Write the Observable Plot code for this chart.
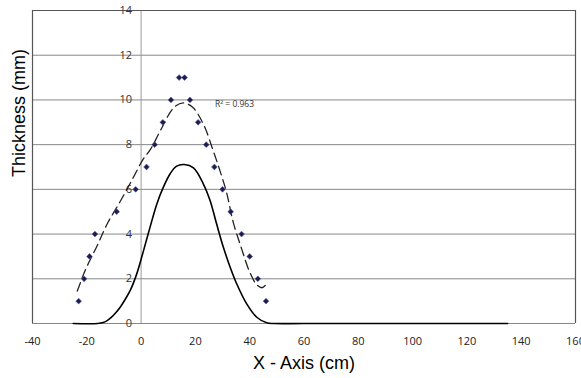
<!DOCTYPE html>
<html>
<head>
<meta charset="utf-8">
<script src="https://cdn.jsdelivr.net/npm/d3@7"></script>
<script src="https://cdn.jsdelivr.net/npm/@observablehq/plot@0.6"></script>
<style>
  html, body { margin: 0; padding: 0; background: #fff; }
</style>
</head>
<body>
<div id="chart"></div>
<script>
// Measured data points (X in cm, thickness in mm)
const pointX = [-23, -21, -19, -17, -9, -2, 2, 5, 8, 11, 14, 16, 18, 21, 24, 27, 30, 33, 37, 40, 43, 46];
const pointY = [1, 2, 3, 4, 5, 6, 7, 8, 9, 10, 11, 11, 10, 9, 8, 7, 6, 5, 4, 3, 2, 1];

// Dashed trend line
const trendX = [-23.5, -20.5, -16.5, -12.5, -7.5, -3, 0.5, 3.5, 7, 12, 15.5, 19, 23, 26.5, 29, 31.5, 34, 37, 40, 42.5, 44.5, 45.7];
const trendY = [1.45, 2.4, 3.4, 4.45, 5.5, 6.5, 7.3, 7.8, 8.6, 9.65, 9.87, 9.67, 8.9, 7.75, 6.85, 5.85, 4.5, 3.35, 2.3, 1.75, 1.6, 1.7];

// Solid curve
const curveX = [-25, -16, -14, -12.5, -11, -9.5, -7.7, -6, -4, -1.6, 0.9, 3.3, 5.8, 8.2, 10.7, 13.1, 15.9, 19.3, 22.9, 25.4, 27.8, 30.3, 32.8, 35.2, 38.9, 42.6, 46.3, 49, 60, 135];
const curveY = [0, 0, 0.04, 0.13, 0.27, 0.46, 0.73, 1.05, 1.48, 2.22, 3.26, 4.31, 5.35, 6.1, 6.7, 7.04, 7.11, 6.96, 6.25, 5.5, 4.46, 3.41, 2.52, 1.78, 0.88, 0.28, 0.03, 0, 0, 0];

const xTicks = [-40, -20, 0, 20, 40, 60, 80, 100, 120, 140, 160];
const yTicks = [0, 2, 4, 6, 8, 10, 12, 14];
const gridY = [0, 2, 4, 6, 8, 10, 12];
const r2Label = "R² = 0.963";
const xTitle = "X - Axis (cm)";
const yTitle = "Thickness (mm)";

const points = pointX.map((x, i) => ({x, y: pointY[i]}));
const trend = trendX.map((x, i) => ({x, y: trendY[i]}));
const curve = curveX.map((x, i) => ({x, y: curveY[i]}));

const tickFont = "'Open Sans', sans-serif";

const chart = Plot.plot({
  width: 581,
  height: 378,
  marginLeft: 32,
  marginRight: 6,
  marginTop: 10,
  marginBottom: 55,
  style: {background: "#fff", fontFamily: "'Liberation Sans', Arial, sans-serif"},
  x: {domain: [-40, 160], axis: null},
  y: {domain: [0, 14], axis: null},
  marks: [
    Plot.ruleY(gridY, {stroke: "#878787", strokeWidth: 1}),
    Plot.ruleX([0], {stroke: "#9a9a9a", strokeWidth: 1}),
    Plot.ruleY([14], {stroke: "#555", strokeWidth: 1.2}),
    Plot.ruleX([-40, 160], {stroke: "#555", strokeWidth: 1.2}),
    Plot.text(yTicks, {x: 0, y: d => d, text: d => String(d), textAnchor: "end", dx: -9, fontSize: 11, fontFamily: tickFont, fill: "#333"}),
    Plot.text(xTicks, {x: d => d, y: 0, text: d => String(d), dy: 18, fontSize: 11, fontFamily: tickFont, fill: "#222"}),
    Plot.line(curve, {x: "x", y: "y", stroke: "#000", strokeWidth: 1.6, curve: "catmull-rom"}),
    Plot.line(trend, {x: "x", y: "y", stroke: "#222", strokeWidth: 1.3, strokeDasharray: "9,5", curve: "catmull-rom"}),
    Plot.dot(points, {x: "x", y: "y", symbol: "diamond2", r: 2.6, fill: "#1c1c54", stroke: "#5a5a90", strokeWidth: 0.6}),
    Plot.text([r2Label], {x: 34.4, y: 9.8, text: d => d, fontSize: 8.5, fontFamily: tickFont, fill: "#333"}),
    Plot.text([xTitle], {frameAnchor: "bottom", text: d => d, dy: 45, fontSize: 18, fill: "#000"}),
    Plot.text([yTitle], {frameAnchor: "left", text: d => d, rotate: -90, dx: -13.5, dy: 10, fontSize: 18, fill: "#000"})
  ]
});

document.getElementById("chart").appendChild(chart);
</script>
</body>
</html>
